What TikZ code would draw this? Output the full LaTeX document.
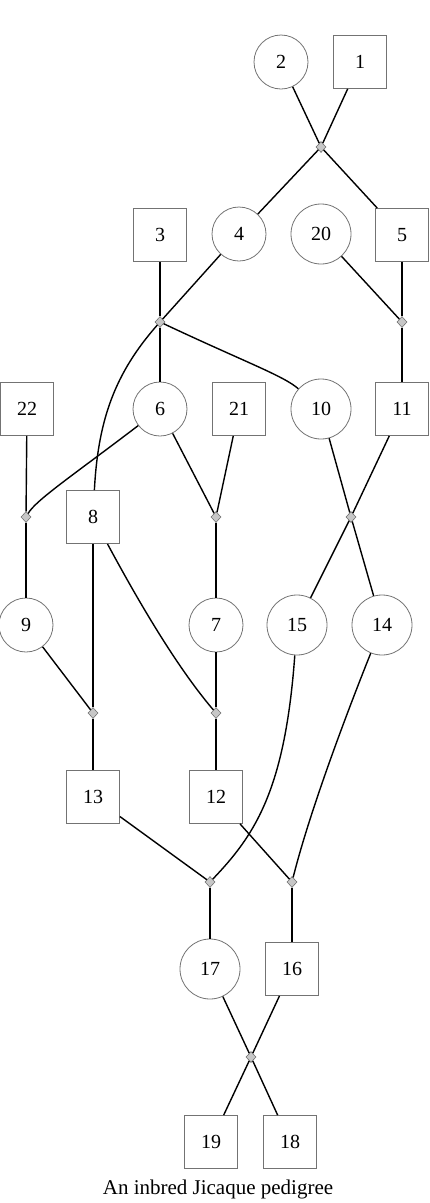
\documentclass[tikz,border=0pt]{standalone}
\usepackage{fontspec}
\setmainfont{Liberation Serif}
\usetikzlibrary{shapes.geometric}
\tikzset{
  person/.style={draw=black!55, line width=0.8pt, inner sep=0pt, font=\fontsize{20}{24}\selectfont},
  male/.style={person, rectangle, minimum width=53pt, minimum height=53pt},
  female/.style={person, circle, minimum size=54pt},
  femaleb/.style={person, circle, minimum size=60pt},
  mar/.style={draw=black!55, fill=black!22, line width=0.6pt, diamond, inner sep=0pt, minimum width=10pt, minimum height=11pt},
  link/.style={line width=1.4pt, black},
}
\begin{document}
\begin{tikzpicture}[x=1pt,y=-1pt]
\useasboundingbox (0,0) rectangle (430,1203);
% persons
\node[female] (n2) at (281,62) {2};
\node[male] (n1) at (360,62) {1};
\node[male] (n3) at (160,235) {3};
\node[female] (n4) at (239,234) {4};
\node[femaleb] (n20) at (321,234) {20};
\node[male] (n5) at (402,235) {5};
\node[male] (n22) at (27,409) {22};
\node[female] (n6) at (160,409) {6};
\node[male] (n21) at (239,409) {21};
\node[femaleb] (n10) at (321,409) {10};
\node[male] (n11) at (402,409) {11};
\node[male] (n8) at (93,517) {8};
\node[female] (n9) at (26,625) {9};
\node[female] (n7) at (216,625) {7};
\node[femaleb] (n15) at (297,625) {15};
\node[femaleb] (n14) at (382,625) {14};
\node[male] (n13) at (93,797) {13};
\node[male] (n12) at (216,797) {12};
\node[femaleb] (n17) at (210,969) {17};
\node[male] (n16) at (292,969) {16};
\node[male] (n19) at (211,1142) {19};
\node[male] (n18) at (290,1142) {18};
% marriages
\node[mar] (m1) at (321,147) {};
\node[mar] (m2) at (160,322) {};
\node[mar] (m3) at (402,322) {};
\node[mar] (m4) at (26,517) {};
\node[mar] (m5) at (216,517) {};
\node[mar] (m6) at (351,517) {};
\node[mar] (m7) at (93,713) {};
\node[mar] (m8) at (216,713) {};
\node[mar] (m9) at (210,882) {};
\node[mar] (m10) at (292,882) {};
\node[mar] (m11) at (251,1057) {};
% links
\begin{scope}[link]
\draw (n2) -- (m1); \draw (n1) -- (m1);
\draw (m1) -- (n4); \draw (m1) -- (n5);
\draw (n3) -- (m2); \draw (n4) -- (m2);
\draw (n20) -- (m3); \draw (n5) -- (m3);
\draw (m2) -- (n6);
\draw (m2) .. controls (245,362) and (284,376) .. (n10);
\draw (m2) .. controls (115,373) and (98,420) .. (n8);
\draw (m3) -- (n11);
\draw (n22) -- (m4);
\draw (n6) .. controls (72,476) and (36,500) .. (m4);
\draw (n6) -- (m5); \draw (n21) -- (m5);
\draw (n10) -- (m6); \draw (n11) -- (m6);
\draw (m4) -- (n9); \draw (m5) -- (n7);
\draw (m6) -- (n15); \draw (m6) -- (n14);
\draw (n9) -- (m7); \draw (n8) -- (m7);
\draw (n8) .. controls (135,595) and (175,665) .. (m8);
\draw (n7) -- (m8);
\draw (m7) -- (n13); \draw (m8) -- (n12);
\draw (n13) -- (m9);
\draw (n15) .. controls (285,790) and (255,835) .. (m9);
\draw (n12) -- (m10);
\draw (n14) .. controls (348,710) and (310,810) .. (m10);
\draw (m9) -- (n17); \draw (m10) -- (n16);
\draw (n17) -- (m11); \draw (n16) -- (m11);
\draw (m11) -- (n19); \draw (m11) -- (n18);
\end{scope}
\node[font=\fontsize{21}{25}\selectfont] (cap) at (218,1189) {An inbred Jicaque pedigree};
\end{tikzpicture}
\end{document}
